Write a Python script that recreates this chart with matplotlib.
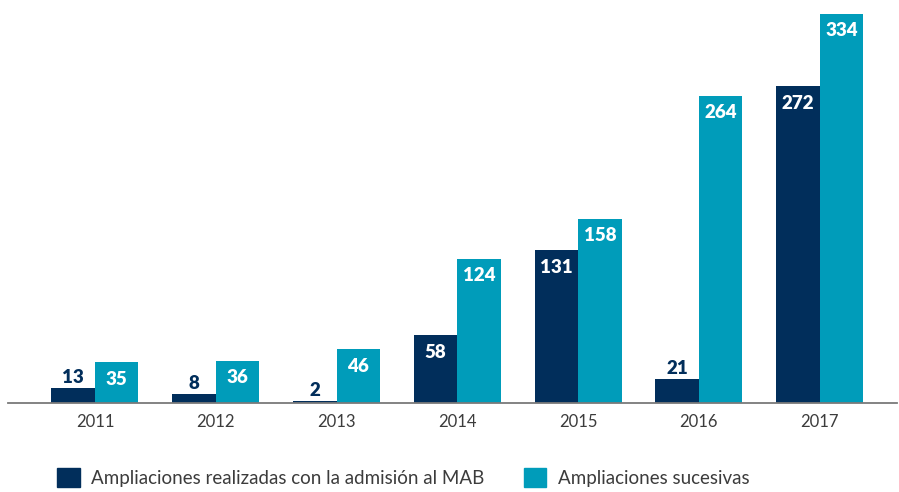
import numpy as np
import matplotlib.pyplot as plt
from matplotlib.patches import Patch

years = ['2011', '2012', '2013', '2014', '2015', '2016', '2017']
admision = [13, 8, 2, 58, 131, 21, 272]
sucesivas = [35, 36, 46, 124, 158, 264, 334]
series_names = ['Ampliaciones realizadas con la admisión al MAB', 'Ampliaciones sucesivas']

dark = '#012e5b'
teal = '#009cba'

plt.rcParams['font.family'] = ['Lato', 'DejaVu Sans']

fig = plt.figure(figsize=(8.99, 4.92), dpi=100)
ax = fig.add_axes([8 / 899, 89 / 492, 889 / 899, (403 - 14) / 492])

x = np.arange(len(years))
w = 0.36
b1 = ax.bar(x - w / 2, admision, w, color=dark)
b2 = ax.bar(x + w / 2, sucesivas, w, color=teal)


def label(bars, vals, col):
    for r, v in zip(bars, vals):
        cx = r.get_x() + r.get_width() / 2
        if v > 24:
            ax.annotate(str(v), (cx, v), xytext=(0, -6), textcoords='offset points',
                        ha='center', va='top', color='white', fontsize=13.5, fontweight='heavy')
        else:
            ax.annotate(str(v), (cx, v), xytext=(0, 1), textcoords='offset points',
                        ha='center', va='bottom', color=col, fontsize=13.5, fontweight='heavy')


label(b1, admision, dark)
label(b2, sucesivas, teal)

ax.set_xlim(-0.72, 6.64)
ax.set_ylim(0, 334)
ax.set_xticks(x)
ax.set_xticklabels(years, fontsize=12, color='#3c3c3c')
ax.tick_params(axis='x', length=0, pad=8)
ax.set_yticks([])
for s in ['top', 'left', 'right']:
    ax.spines[s].set_visible(False)
ax.spines['bottom'].set_color('#7a7a7a')
ax.spines['bottom'].set_linewidth(1.3)

handles = [Patch(color=dark), Patch(color=teal)]
leg = fig.legend(handles, series_names, loc='lower left', bbox_to_anchor=(0.045, -0.025),
                 ncol=2, frameon=False, handlelength=1.2, handleheight=1.2,
                 handletextpad=0.6, columnspacing=2.1, labelcolor='#3c3c3c',
                 prop={'size': 13.5})

fig.savefig('out.png', dpi=100)
